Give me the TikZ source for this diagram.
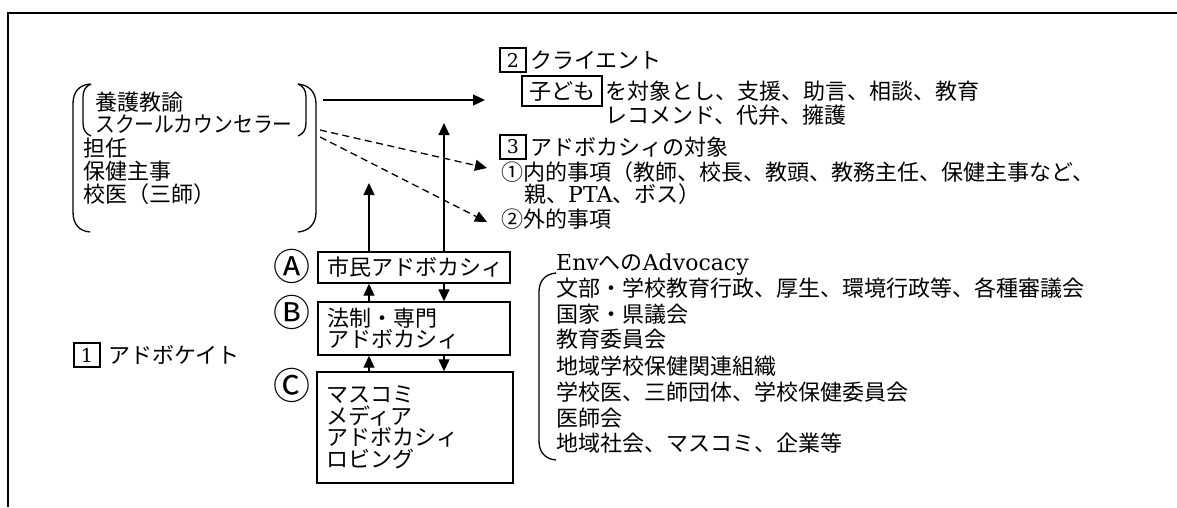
\documentclass[tikz,border=0pt]{standalone}
\usepackage{fontspec}
\usepackage{graphicx}
\usetikzlibrary{arrows.meta}
\newfontfamily\jpfont{Noto Sans CJK JP}
\newfontfamily\latfont{DejaVu Serif}
\newcommand\ltxt[1]{{\latfont #1}}
\newcommand\boxfont{\jpfont\fontsize{22}{21.5}\selectfont\lineskiplimit=-50pt\relax}
\tikzset{
  txt/.style={inner sep=0pt, anchor=base west, font=\jpfont\fontsize{22}{22}\selectfont},
  numbox/.style={draw, line width=1.2pt, inner sep=0pt, minimum width=26pt, minimum height=24pt, font=\latfont\fontsize{19}{19}\selectfont},
  advbox/.style={draw, line width=1.4pt, inner xsep=9pt, inner ysep=0pt, align=left, font=\boxfont},
  circ/.style={inner sep=0pt, font=\jpfont\fontsize{37}{37}\selectfont},
  arr/.style={line width=1.3pt, -{Triangle[length=12pt,width=11pt]}},
  darr/.style={arr, dash pattern=on 7pt off 4.5pt},
  brk/.style={line width=1.3pt},
}
\begin{document}
\begin{tikzpicture}[x=1pt,y=-1pt]
\useasboundingbox (0,0) rectangle (1177,507);
% frame
\draw[line width=2pt] (8,507) -- (8,12.5) -- (1177,12.5);

% left group
\node[txt] (yogo) at (95,110) {養護教諭};
\node[txt] (sc) at (95,132) {\scalebox{0.9}[1]{スクールカウンセラー}};
\node[txt] (tannin) at (83,156) {担任};
\node[txt] (hoken) at (83,179) {保健主事};
\node[txt] (koi) at (83,202) {校医（三師）};
\draw[brk] (90,84) .. controls (79,85) and (73,92) .. (73,104) -- (73,212) .. controls (73,224) and (79,231) .. (90,232);
\draw[brk] (91,84) .. controls (86,86) and (83,90) .. (83,97) -- (83,123) .. controls (83,130) and (86,134) .. (91,136);
\draw[brk] (298,84) .. controls (303,86) and (306,90) .. (306,97) -- (306,123) .. controls (306,130) and (303,134) .. (298,136);
\draw[brk] (298,84) .. controls (309,85) and (316,92) .. (316,104) -- (316,212) .. controls (316,224) and (309,231) .. (298,232);

% 1
\node[numbox] (n1) at (87,355) {1};
\node[txt] (advocate) at (108,363) {アドボケイト};

% top right
\node[numbox] (n2) at (513,60) {2};
\node[txt] (client) at (530,68) {クライエント};
\node[draw, line width=1.2pt, inner xsep=7pt, inner ysep=0pt, minimum height=30pt, font=\jpfont\fontsize{22}{22}\selectfont] (kodomo) at (562,91) {子ども};
\node[txt] (shien) at (605,99) {を対象とし、支援、助言、相談、教育};
\node[txt] (reco) at (605,123) {レコメンド、代弁、擁護};
\node[numbox] (n3) at (513,147) {3};
\node[txt] (taisho) at (530,155) {アドボカシィの対象};
\node[txt] (naiteki) at (501,180) {①内的事項（教師、校長、教頭、教務主任、保健主事など、};
\node[txt] (oya) at (524,202) {親、\ltxt{PTA}、ボス）};
\node[txt] (gaiteki) at (501,227) {②外的事項};

% arrows from left group
\coordinate (s1) at (323,100);
\coordinate (e1) at (485,100);
\coordinate (s2) at (320,130);
\coordinate (e2) at (487,168);
\coordinate (s3) at (320,137);
\coordinate (e3) at (487,222);
\draw[arr] (s1) -- (e1);
\draw[darr] (s2) -- (e2);
\draw[darr] (s3) -- (e3);

% advocacy boxes
\node[advbox, text width=174pt, minimum height=31pt] (A) at (414,267.5) {市民アドボカシィ};
\node[advbox, text width=174pt, minimum height=53pt] (B) at (414,328.5) {法制・専門\\アドボカシィ};
\node[advbox, text width=178pt, minimum height=111pt] (C) at (415,427.5) {マスコミ\\メディア\\アドボカシィ\\ロビング};
\node[circ] (ca) at (292,266) {Ⓐ};
\node[circ] (cb) at (292,312) {Ⓑ};
\node[circ] (cc) at (292,385) {Ⓒ};

\coordinate (xl) at (369,0);
\coordinate (xr) at (444,0);
\coordinate (tl) at (369,183);
\coordinate (tr) at (444,123);
\draw[arr] (A.north -| xl) -- (tl);
\draw[arr] (A.north -| xr) -- (tr);
\draw[arr] (B.north -| xl) -- (A.south -| xl);
\draw[arr] (A.south -| xr) -- (B.north -| xr);
\draw[arr] (C.north -| xl) -- (B.south -| xl);
\draw[arr] (B.south -| xr) -- (C.north -| xr);

% environment list
\node[txt] (env) at (556,270) {\ltxt{Env}への\ltxt{Advocacy}};
\node[txt] (e1t) at (556,296) {文部・学校教育行政、厚生、環境行政等、各種審議会};
\node[txt] (e2t) at (556,322) {国家・県議会};
\node[txt] (e3t) at (556,347) {教育委員会};
\node[txt] (e4t) at (556,374) {地域学校保健関連組織};
\node[txt] (e5t) at (556,400) {学校医、三師団体、学校保健委員会};
\node[txt] (e6t) at (556,426) {医師会};
\node[txt] (e7t) at (556,451) {地域社会、マスコミ、企業等};
\draw[brk] (556,273) .. controls (545,274) and (539,281) .. (539,292) -- (539,441) .. controls (539,452) and (545,459) .. (556,460);
\end{tikzpicture}
\end{document}
